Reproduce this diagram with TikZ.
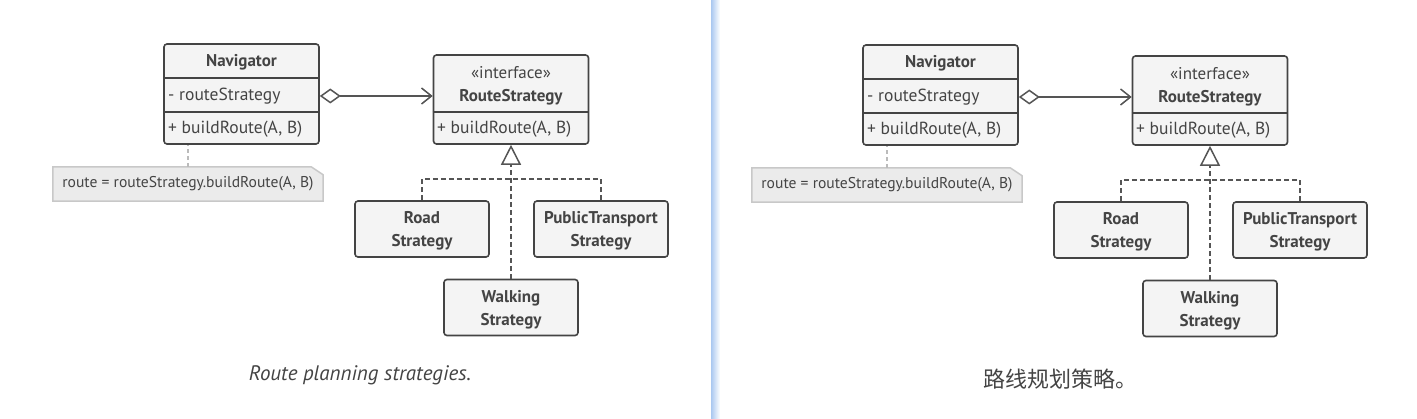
\documentclass[tikz,border=0pt]{standalone}
\usepackage{fontspec}
\setmainfont{PT Sans}
\newfontfamily\cjk{Noto Sans CJK SC}
\usetikzlibrary{arrows.meta,backgrounds}
\definecolor{ink}{HTML}{444444}
\definecolor{lineink}{HTML}{555555}
\definecolor{boxfill}{HTML}{F4F4F4}
\definecolor{notefill}{HTML}{EBEBEB}
\definecolor{noteline}{HTML}{C8C8C8}
\definecolor{notedash}{HTML}{BBBBBB}
\definecolor{divblue}{RGB}{170,200,240}
\tikzset{
  umlbox/.style={draw=ink, fill=boxfill, line width=1.6pt, rounded corners=3pt, inner sep=0pt},
  divline/.style={draw=ink, line width=1.6pt},
  titletext/.style={text=ink, inner sep=0pt, font=\fontsize{17}{20}\selectfont\bfseries},
  attrtext/.style={text=ink, inner sep=0pt, anchor=west, font=\fontsize{17.5}{20}\selectfont},
  stereo/.style={text=ink, inner sep=0pt, font=\fontsize{17}{20}\selectfont},
  subbox/.style={umlbox, minimum width=134pt, minimum height=56pt, align=center, text=ink,
                 text depth=0pt, font=\fontsize{17}{23}\selectfont\bfseries},
  assoc/.style={draw=lineink, line width=1.5pt,
                {Diamond[open, length=21pt, width=15pt, line width=1.5pt]}-{Straight Barb[length=10pt, width=16pt, line width=1.5pt]}},
  realize/.style={draw=lineink, line width=1.5pt, dash pattern=on 5pt off 3pt},
  notebox/.style={draw=noteline, fill=notefill, line width=1.5pt},
  notetext/.style={text=ink, inner sep=0pt, minimum width=270pt, minimum height=34pt,
                   font=\fontsize{15.6}{18}\selectfont},
  notelink/.style={draw=notedash, line width=1.5pt, dash pattern=on 4pt off 3pt},
  caption/.style={text=ink, inner sep=0pt}
}
\newcommand\umlpanel{%
  % Navigator
  \node[umlbox, minimum width=155pt, minimum height=100pt] (nav) at (241.5,94) {};
  \draw[divline] (nav.west |- 0,78) -- (nav.east |- 0,78);
  \draw[divline] (nav.west |- 0,112) -- (nav.east |- 0,112);
  \node[titletext] (navT) at (241.5,62) {Navigator};
  \node[attrtext] (navA) at (168,96) {- routeStrategy};
  \node[attrtext] (navM) at (168,129) {+ buildRoute(A, B)};
  % RouteStrategy
  \node[umlbox, minimum width=155pt, minimum height=89pt] (rs) at (511,99.5) {};
  \draw[divline] (rs.west |- 0,112) -- (rs.east |- 0,112);
  \node[stereo] (rsS) at (511,73) {«interface»};
  \node[titletext] (rsT) at (511,97) {RouteStrategy};
  \node[attrtext] (rsM) at (437,129) {+ buildRoute(A, B)};
  % association
  \draw[assoc] (nav.east |- 0,96) -- (rs.west |- 0,96);
  % subclasses
  \node[subbox] (road) at (422,229) {Road\\Strategy};
  \node[subbox] (pt) at (601,229) {PublicTransport\\Strategy};
  \node[subbox] (walk) at (511,307.5) {Walking\\Strategy};
  \coordinate (j) at (511,179);
  \draw[realize] (road.north) |- (j);
  \draw[realize] (pt.north) |- (j);
  \draw[realize, -{Triangle[open, length=20pt, width=20pt, line width=1.5pt]}] (walk.north) -- (rs.south);
  % note
  \node[notetext] (note) at (188,184) {route = routeStrategy.buildRoute(A, B)};
  \begin{scope}[on background layer]
    \filldraw[notebox] (note.north west) -- ([xshift=-12pt]note.north east)
      -- ([yshift=-8pt]note.north east) -- (note.south east) -- (note.south west) -- cycle;
  \end{scope}
  \draw[notelink] (note.north) -- (note.north |- nav.south);
}
\begin{document}
\begin{tikzpicture}[x=1pt, y=-1pt]
  \useasboundingbox (0,0) rectangle (1417,419);
  \begin{scope}[on background layer]
    \fill[white] (0,0) rectangle (1417,419);
    \shade[left color=divblue, right color=white] (711,0) rectangle (720,419);
  \end{scope}
  \begin{scope}[name prefix=l-]
    \umlpanel
  \end{scope}
  \begin{scope}[shift={(699,1)}, name prefix=r-]
    \umlpanel
  \end{scope}
  \node[caption, font=\fontsize{21}{25}\selectfont\itshape] (capL) at (360,375) {Route planning strategies.};
  \node[caption, font=\fontsize{22}{26}\cjk] (capR) at (1060,379) {路线规划策略。};
\end{tikzpicture}
\end{document}
